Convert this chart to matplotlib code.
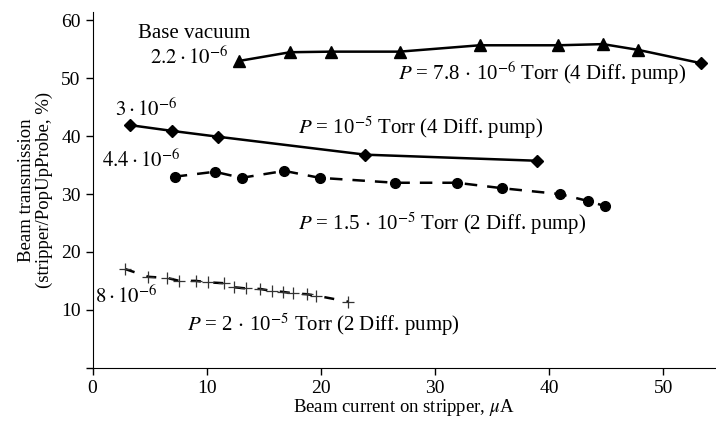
import matplotlib
matplotlib.use("Agg")
import matplotlib.pyplot as plt

plt.rcParams['font.family'] = ['Liberation Serif', 'DejaVu Serif']
plt.rcParams['mathtext.fontset'] = 'stix'

# base vacuum, 7.8e-6 Torr (4 diff. pumps)
x_base = [12.85, 17.3, 20.9, 26.9, 33.9, 40.8, 44.7, 47.8]
y_base = [53.0, 54.5, 54.6, 54.6, 55.7, 55.7, 55.9, 54.9]
x_base_end = [53.3]
y_base_end = [52.6]

# 1e-5 Torr (4 diff. pumps)
x_p1 = [3.3, 7.0, 11.0, 23.9, 38.95]
y_p1 = [41.9, 40.9, 39.9, 36.8, 35.75]

# 1.5e-5 Torr (2 diff. pumps)
x_p2 = [7.2, 10.7, 13.05, 16.8, 19.9, 26.5, 31.9, 35.9, 40.9, 43.4, 44.9]
y_p2 = [33.0, 33.85, 32.8, 34.0, 32.8, 31.95, 31.95, 31.0, 30.0, 28.8, 27.9]

# 2e-5 Torr (2 diff. pumps)
x_p3 = [2.85, 4.9, 6.55, 7.6, 9.05, 10.1, 11.5, 12.4, 13.4, 14.7, 15.7,
        16.65, 17.6, 18.75, 19.6, 22.4]
y_p3 = [17.05, 15.7, 15.5, 15.0, 15.0, 14.75, 14.6, 13.9, 13.7, 13.6, 13.25,
        13.1, 12.85, 12.7, 12.45, 11.4]

fig = plt.figure(figsize=(7.16, 4.21), dpi=100)
ax = fig.add_axes([0.1292, 0.1266, 0.8708, 0.8456])

lw = 1.8
ax.plot(x_base + x_base_end, y_base + y_base_end, color='black', lw=lw)
ax.plot(x_base, y_base, ls='none', marker='^', ms=9, color='black')
ax.plot(x_base_end, y_base_end, ls='none', marker='D', ms=6.5, color='black')

ax.plot(x_p1, y_p1, color='black', lw=lw, marker='D', ms=6.5)

ax.plot(x_p2, y_p2, color='black', lw=lw, marker='o', ms=7, dashes=(5, 4))

ax.plot(x_p3, y_p3, color='black', lw=lw, dashes=(4, 5))
ax.plot(x_p3, y_p3, ls='none', marker='+', ms=9, mew=0.9, color='#333333')

fs = 15
ax.text(4.0, 57.8, 'Base vacuum', fontsize=fs, va='center')
ax.text(11.9, 53.5, r'$2.2\cdot10^{-6}$', fontsize=fs, va='center', ha='right')
ax.text(26.75, 50.9, r'$P$ = 7.8$\,\cdot\,$10$^{-6}$ Torr (4 Diff. pump)',
        fontsize=fs, va='center')
ax.text(1.97, 44.5, r'$3\cdot10^{-6}$', fontsize=fs, va='center')
ax.text(18.0, 41.4, r'$P$ = 10$^{-5}$ Torr (4 Diff. pump)', fontsize=fs, va='center')
ax.text(0.83, 35.8, r'$4.4\cdot10^{-6}$', fontsize=fs, va='center')
ax.text(18.0, 24.8, r'$P$ = 1.5$\,\cdot\,$10$^{-5}$ Torr (2 Diff. pump)',
        fontsize=fs, va='center')
ax.text(0.2, 12.2, r'$8\cdot10^{-6}$', fontsize=fs, va='center')
ax.text(8.3, 7.4, r'$P$ = 2$\,\cdot\,$10$^{-5}$ Torr (2 Diff. pump)',
        fontsize=fs, va='center')

ax.set_xlim(0, 54.6)
ax.set_ylim(0, 61.5)
ax.set_xticks([0, 10, 20, 30, 40, 50])
ax.set_yticks([0, 10, 20, 30, 40, 50, 60])
ax.set_yticklabels(['', '10', '20', '30', '40', '50', '60'])
ax.spines['top'].set_visible(False)
ax.spines['right'].set_visible(False)
ax.tick_params(direction='out', length=5, width=1, labelsize=14)
ax.set_xlabel(r'Beam current on stripper, $\mu$A', fontsize=13.5, labelpad=0)
ax.set_ylabel('Beam transmission\n(stripper/PopUpProbe, %)', fontsize=13.5,
              linespacing=1.0, labelpad=6)

fig.savefig('out.png', dpi=100)
